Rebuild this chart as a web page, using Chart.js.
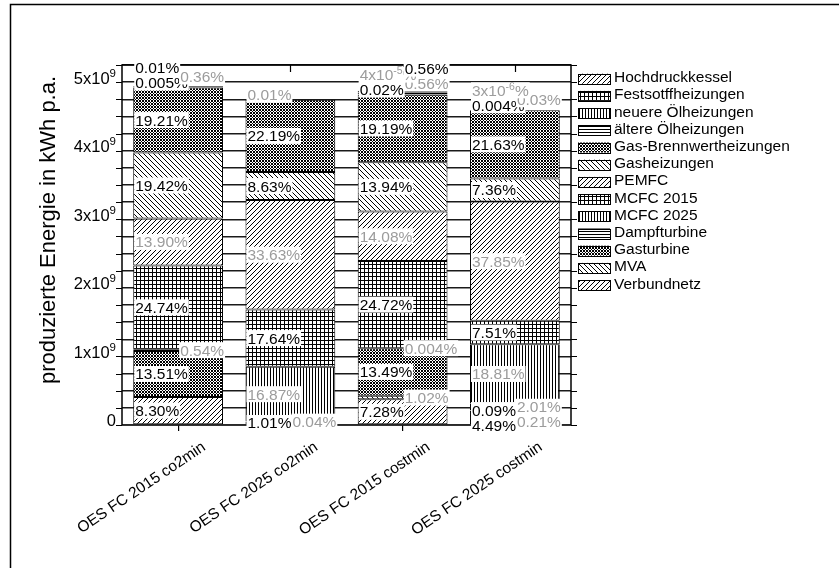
<!DOCTYPE html>
<html>
<head>
<meta charset="utf-8">
<script src="https://cdn.jsdelivr.net/npm/chart.js@4.4.1/dist/chart.umd.min.js"></script>
<style>
  html, body { margin: 0; padding: 0; background: #fff; }
  #wrap { width: 839px; height: 568px; position: relative; }
</style>
</head>
<body>
<div id="wrap"><canvas id="chart"></canvas></div>
<script>
const scenarios = ['OES FC 2015 co2min', 'OES FC 2025 co2min', 'OES FC 2015 costmin', 'OES FC 2025 costmin'];
// total produced energy per scenario, kWh p.a.
const totals = [4.95e9, 4.75e9, 5.15e9, 4.6e9];

// shares of the total in percent, one entry per scenario
const verbundnetz     = [8.30, 1.01, 7.28, 4.49];
const mva             = [0, 0.04, 1.02, 0.21];
const gasturbine      = [13.51, 0, 13.49, 0.09];
const dampfturbine    = [0.54, 0, 0.004, 2.01];
const mcfc2025        = [0, 16.87, 0, 18.81];
const mcfc2015        = [24.74, 17.64, 24.72, 7.51];
const pemfc           = [13.90, 33.63, 14.08, 37.85];
const gasheizungen    = [19.42, 8.63, 13.94, 7.36];
const gasBrennwert    = [19.21, 22.19, 19.19, 21.63];
const aeltereOel      = [0.005, 0, 0.02, 0.004];
const neuereOel       = [0.36, 0.01, 0.56, 0.03];
const festsoff        = [0, 0, 0.00004, 0.000003];
const hochdruckkessel = [0.01, 0, 0.56, 0];

const yMajorTicks = [0, 1e9, 2e9, 3e9, 4e9, 5e9];

// stack order, bottom to top
const names = ['Verbundnetz', 'MVA', 'Gasturbine', 'Dampfturbine', 'MCFC 2025', 'MCFC 2015', 'PEMFC',
  'Gasheizungen', 'Gas-Brennwertheizungen', 'ältere Ölheizungen', 'neuere Ölheizungen',
  'Festsotffheizungen', 'Hochdruckkessel'];
const shares = [verbundnetz, mva, gasturbine, dampfturbine, mcfc2025, mcfc2015, pemfc,
  gasheizungen, gasBrennwert, aeltereOel, neuereOel, festsoff, hochdruckkessel];

const GRAY = '#9c9c9c';
const hatches = ['fwd', 'back', 'cross', 'horiz', 'vert', 'grid', 'fwd', 'back', 'cross', 'horiz', 'vert', 'grid', 'fwd'];
const tones = ['#000', GRAY, '#000', GRAY, GRAY, '#000', GRAY, '#000', '#000', '#000', GRAY, GRAY, '#000'];

const FAMILY = '"Liberation Sans", Arial, sans-serif';
const LABEL_SIZE = 15.5;
const SUP_SIZE = 10.5;

Chart.defaults.font.family = FAMILY;

function makePattern(kind) {
  const size = { fwd: 5, back: 5, grid: 4, vert: 3, horiz: 3, cross: 3 }[kind];
  const c = document.createElement('canvas');
  c.width = c.height = size;
  const g = c.getContext('2d');
  const img = g.createImageData(size, size);
  for (let y = 0; y < size; y++) {
    for (let x = 0; x < size; x++) {
      let on = false;
      if (kind === 'fwd') on = (x + y) % size === 0;
      else if (kind === 'back') on = (x - y + size) % size === 0;
      else if (kind === 'grid') on = x === 0 || y === 0;
      else if (kind === 'vert') on = x === 0;
      else if (kind === 'horiz') on = y === 0;
      else if (kind === 'cross') on = (x + y) % size === 0 || (x - y + size) % size === 0;
      const i = (y * size + x) * 4;
      const v = on ? 0 : 255;
      img.data[i] = img.data[i + 1] = img.data[i + 2] = v;
      img.data[i + 3] = 255;
    }
  }
  g.putImageData(img, 0, 0);
  return g.createPattern(c, 'repeat');
}

const datasets = names.map((name, s) => ({
  label: name,
  shares: shares[s],
  tone: tones[s],
  data: shares[s].map((p, i) => (p > 0 ? p / 100 * totals[i] : null)),
  backgroundColor: makePattern(hatches[s]),
  borderColor: '#000',
  borderWidth: 1,
  borderSkipped: false,
  categoryPercentage: 0.8,
  barPercentage: 1
}));

function shareText(v) {
  if (v >= 0.01) return { main: v.toFixed(2), sup: '' };
  if (v >= 0.001) return { main: v.toFixed(3), sup: '' };
  const e = Math.floor(Math.log10(v));
  return { main: Math.round(v / Math.pow(10, e)) + 'x10', sup: String(e) };
}

function drawShare(ctx, x, y, v, color) {
  const t = shareText(v);
  ctx.font = `${LABEL_SIZE}px ${FAMILY}`;
  const w1 = ctx.measureText(t.main).width;
  const w3 = ctx.measureText('%').width;
  ctx.font = `${SUP_SIZE}px ${FAMILY}`;
  const w2 = t.sup ? ctx.measureText(t.sup).width : 0;
  ctx.fillStyle = '#fff';
  ctx.fillRect(x - 1, y - 8, w1 + w2 + w3 + 2, 16);
  ctx.fillStyle = color;
  ctx.textAlign = 'left';
  ctx.textBaseline = 'alphabetic';
  const base = y + 5.5;
  ctx.font = `${LABEL_SIZE}px ${FAMILY}`;
  ctx.fillText(t.main, x, base);
  if (t.sup) {
    ctx.font = `${SUP_SIZE}px ${FAMILY}`;
    ctx.fillText(t.sup, x + w1, base - 6);
  }
  ctx.font = `${LABEL_SIZE}px ${FAMILY}`;
  ctx.fillText('%', x + w1 + w2, base);
}

// puts the percentage labels of one bar; thin segments are spread over two columns
function placeLabels(chart, index) {
  const items = [];
  chart.data.datasets.forEach((ds, di) => {
    const v = ds.shares[index];
    if (!v) return;
    const bar = chart.getDatasetMeta(di).data[index];
    const top = Math.min(bar.y, bar.base);
    const bottom = Math.max(bar.y, bar.base);
    items.push({ v, tone: ds.tone, mid: (top + bottom) / 2, h: bottom - top, left: bar.x - bar.width / 2, center: bar.x });
  });
  const big = items.map(it => it.h >= 16);
  const first = big.indexOf(true);
  const last = big.lastIndexOf(true);
  const out = [];
  items.forEach((it, k) => { if (big[k]) out.push({ it, col: 'L', y: it.mid }); });

  // below the first tall segment, working downwards
  let lastY = { L: first >= 0 ? items[first].mid : -Infinity, R: -Infinity };
  let col = 'R';
  for (let k = (first >= 0 ? first : items.length) - 1; k >= 0; k--) {
    const y = Math.max(items[k].mid, lastY[col] + 15);
    out.push({ it: items[k], col, y });
    lastY[col] = y;
    col = col === 'R' ? 'L' : 'R';
  }
  // between tall segments
  if (first >= 0) {
    let prevR = Infinity;
    for (let k = first + 1; k < last; k++) {
      if (big[k]) continue;
      const y = Math.min(items[k].mid, prevR - 15);
      out.push({ it: items[k], col: 'R', y });
      prevR = y;
    }
  }
  // above the last tall segment, working upwards
  if (last >= 0) {
    lastY = { L: items[last].mid, R: Infinity };
    let prev = Infinity;
    col = 'L';
    for (let k = last + 1; k < items.length; k++) {
      const y = Math.min(items[k].mid - 5, lastY[col] - 15, prev - 6);
      out.push({ it: items[k], col, y });
      lastY[col] = y;
      prev = y;
      col = col === 'L' ? 'R' : 'L';
    }
  }
  return out;
}

const percentLabels = {
  id: 'percentLabels',
  afterDraw(chart) {
    const ctx = chart.ctx;
    ctx.save();
    chart.data.labels.forEach((_, i) => {
      placeLabels(chart, i).forEach(p => {
        const x = p.col === 'L' ? p.it.left + 2 : p.it.center + 2;
        drawShare(ctx, x, p.y, p.it.v, p.it.tone);
      });
    });
    ctx.restore();
  }
};

const frame = {
  id: 'frame',
  afterDatasetsDraw(chart) {
    const { ctx, chartArea: a, scales: { x, y } } = chart;
    ctx.save();
    ctx.strokeStyle = '#000';
    ctx.lineWidth = 1.5;
    ctx.strokeRect(a.left, a.top, a.right - a.left, a.bottom - a.top);

    ctx.lineWidth = 1.2;
    ctx.beginPath();
    y.ticks.forEach(t => {
      const py = Math.round(y.getPixelForValue(t.value)) + 0.5;
      ctx.moveTo(a.left - 6, py); ctx.lineTo(a.left, py);
      ctx.moveTo(a.right, py); ctx.lineTo(a.right + 6, py);
    });
    x.ticks.forEach((t, i) => {
      const px = Math.round(x.getPixelForTick(i)) + 0.5;
      ctx.moveTo(px, a.top); ctx.lineTo(px, a.top + 7);
    });
    ctx.stroke();

    // y tick labels with raised exponent
    ctx.fillStyle = '#000';
    ctx.textAlign = 'right';
    ctx.textBaseline = 'alphabetic';
    yMajorTicks.forEach(v => {
      const py = y.getPixelForValue(v);
      const right = a.left - 6;
      if (v === 0) {
        ctx.font = `16.5px ${FAMILY}`;
        ctx.fillText('0', right, py + 1);
        return;
      }
      ctx.font = `11.5px ${FAMILY}`;
      const exp = String(Math.round(Math.log10(1e9)));
      const we = ctx.measureText(exp).width;
      ctx.fillText(exp, right, py - 6);
      ctx.font = `16.5px ${FAMILY}`;
      ctx.fillText((v / 1e9) + 'x10', right - we, py + 1);
    });

    // axis title
    ctx.save();
    ctx.translate(55, 230);
    ctx.rotate(-Math.PI / 2);
    ctx.textAlign = 'center';
    ctx.font = `22px ${FAMILY}`;
    ctx.fillText('produzierte Energie in kWh p.a.', 0, 0);
    ctx.restore();

    ctx.restore();
  }
};

const legendBox = {
  id: 'legendBox',
  afterDraw(chart) {
    const { ctx, chartArea: a } = chart;
    ctx.save();
    ctx.font = `${LABEL_SIZE}px ${FAMILY}`;
    ctx.textAlign = 'left';
    ctx.textBaseline = 'alphabetic';
    chart.data.datasets.slice().reverse().forEach((ds, i) => {
      const cy = 78.7 + i * 17.2;
      const x0 = a.right + 7;
      ctx.fillStyle = ds.backgroundColor;
      ctx.fillRect(x0, cy - 5, 32, 10);
      ctx.strokeStyle = '#000';
      ctx.lineWidth = 1;
      ctx.strokeRect(Math.round(x0) + 0.5, Math.round(cy - 5) + 0.5, 32, 10);
      ctx.fillStyle = '#000';
      ctx.fillText(ds.label, x0 + 36, cy + 3.5);
    });
    // outer border of the figure
    ctx.strokeStyle = '#000';
    ctx.lineWidth = 1.5;
    ctx.beginPath();
    ctx.moveTo(10.5, 568); ctx.lineTo(10.5, 4.5); ctx.lineTo(839, 4.5);
    ctx.stroke();
    ctx.restore();
  }
};

new Chart(document.getElementById('chart'), {
  type: 'bar',
  data: { labels: scenarios, datasets },
  options: {
    responsive: true,
    maintainAspectRatio: false,
    animation: false,
    devicePixelRatio: 1,
    layout: { padding: { left: 0, top: 65, right: 268, bottom: 0 } },
    plugins: { legend: { display: false }, tooltip: { enabled: false } },
    scales: {
      x: {
        stacked: true,
        grid: { display: true, drawOnChartArea: false, drawTicks: true, tickLength: 6, offset: false, color: '#000', lineWidth: 1.2 },
        border: { display: false },
        ticks: {
          autoSkip: false, minRotation: 34, maxRotation: 34, labelOffset: 26, padding: 7,
          color: '#000', font: { family: FAMILY, size: 15.5 }
        },
        afterFit: s => { s.height = 143; }
      },
      y: {
        stacked: true,
        min: 0,
        max: 5.26e9,
        ticks: { display: false, stepSize: 0.25e9, includeBounds: false },
        grid: {
          drawTicks: false,
          color: c => (c.tick && c.tick.value % 1e9 === 0 ? '#a8a8a8' : '#1a1a1a'),
          lineWidth: 1.5
        },
        border: { display: false },
        afterFit: s => { s.width = 122; }
      }
    }
  },
  plugins: [frame, percentLabels, legendBox]
});
</script>
</body>
</html>
